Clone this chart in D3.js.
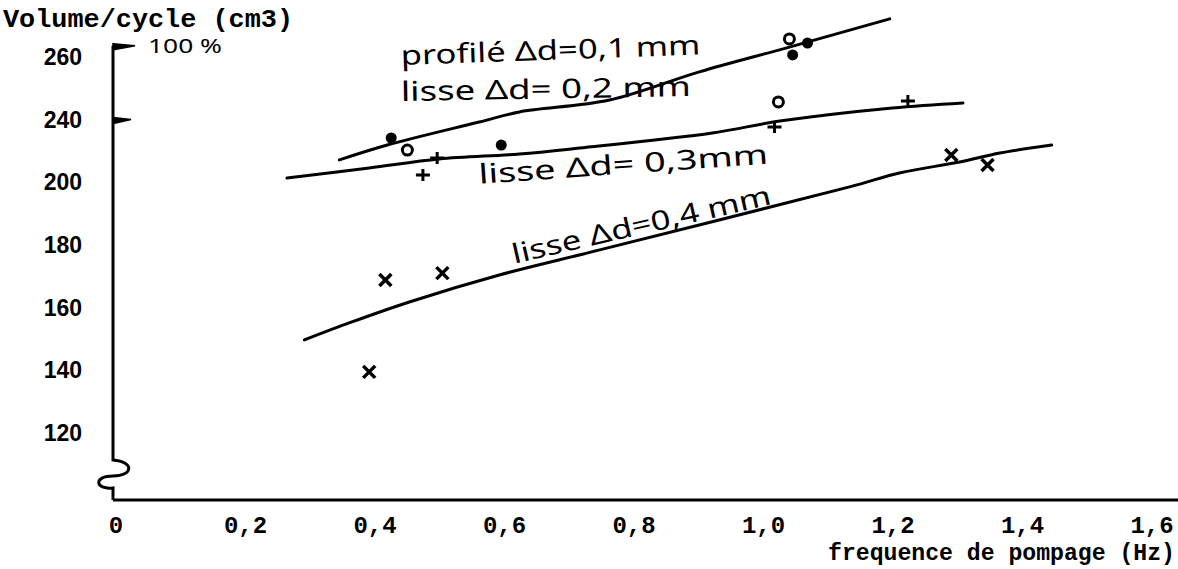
<!DOCTYPE html>
<html>
<head>
  <script src="https://d3js.org/d3.v7.min.js"></script>
  <title>Volume/cycle</title>
  <style>
  body { margin: 0; background: white; }
  </style>
</head>
<body>
<svg id="chart" width="1178" height="569"></svg>
<script>
// tick labels (the 220 label is missing on the original axis)
var yTickLabels = [120, 140, 160, 180, 200, 240, 260];
var xTickLabels = ["0", "0,2", "0,4", "0,6", "0,8", "1,0", "1,2", "1,4", "1,6"];
var xTickValues = [0, 0.2, 0.4, 0.6, 0.8, 1.0, 1.2, 1.4, 1.6];

// measured points
var dots    = [[0.425, 228.2], [0.595, 223.7], [1.045, 260.6], [1.068, 264.4]];
var circles = [[0.450, 220.5], [1.040, 265.7], [1.023, 245.6]];
var pluses  = [[0.474, 204.6], [0.496, 215.4], [1.017, 235.2], [1.223, 245.9]];
var crosses = [[0.416, 168.8], [0.504, 171.0], [0.391, 139.5], [1.290, 217.4], [1.346, 211.0]];

// hand drawn fit lines
var line01 = [[0.345, 214.2], [0.419, 223.7], [0.561, 238.4], [0.623, 242.4], [0.762, 246.2],
              [0.901, 255.2], [1.040, 263.1], [1.195, 272.1]];
var line03 = [[0.264, 202.7], [0.391, 209.1], [0.499, 214.8], [0.623, 218.0], [0.716, 221.8],
              [0.921, 231.4], [1.025, 239.0], [1.199, 243.7], [1.308, 245.3]];
var line04 = [[0.291, 149.7], [0.360, 155.1], [0.453, 161.8], [0.592, 170.4], [0.747, 178.4],
              [1.133, 198.5], [1.210, 205.9], [1.303, 212.9], [1.365, 218.6], [1.445, 223.7]];

// handwritten labels: text, x, y, rotation, width
var notes = [
  ["profilé Δd=0,1 mm", 0.440, 257.4, -2, 300],
  ["lisse Δd= 0,2 mm", 0.440, 245.9, -1, 290],
  ["lisse  Δd= 0,3mm", 0.561, 199.5, -4, 290],
  ["lisse   Δd=0,4 mm", 0.615, 174.0, -13, 265]
];

var svg = d3.select("#chart");

var x0 = 116, x1 = 1152;
var yBottom = 433, yStep = 62.7;

var xs = d3.scaleLinear().domain([0, 1.6]).range([x0, x1]);
var ys = d3.scaleLinear()
  .domain(yTickLabels)
  .range(yTickLabels.map(function(d, i) { return yBottom - i * yStep; }));

var axisX = 113, axisY = 500;

// y axis with break squiggle
var topY = ys(263.5);
svg.append("path")
  .attr("d", "M" + axisX + "," + topY + " L" + axisX + ",460"
    + " C" + (axisX + 22) + ",462 " + (axisX + 20) + ",476 " + axisX + ",476"
    + " C" + (axisX - 20) + ",476 " + (axisX - 18) + ",490 " + axisX + ",488"
    + " L" + axisX + "," + axisY)
  .attr("fill", "none")
  .attr("stroke", "black")
  .attr("stroke-width", 3);

// x axis line
svg.append("line")
  .attr("x1", axisX).attr("x2", 1178)
  .attr("y1", axisY).attr("y2", axisY)
  .attr("stroke", "black")
  .attr("stroke-width", 3);

// flag ticks
svg.append("path")
  .attr("d", "M" + axisX + "," + (topY - 2) + " L" + (axisX + 22) + "," + topY + " L" + axisX + "," + (topY + 4) + "Z")
  .attr("fill", "black").attr("stroke", "black").attr("stroke-width", 1.5);
svg.append("path")
  .attr("d", "M" + axisX + "," + (ys(240) - 2) + " L" + (axisX + 18) + "," + ys(240) + " L" + axisX + "," + (ys(240) + 4) + "Z")
  .attr("fill", "black").attr("stroke", "black").attr("stroke-width", 1.5);

svg.append("text")
  .attr("x", axisX + 35).attr("y", topY + 7)
  .attr("textLength", 74).attr("lengthAdjust", "spacingAndGlyphs")
  .style("font-family", "Noto Sans")
  .style("font-size", "19px")
  .text("100 %");

// y tick labels
svg.append("g").selectAll("text").data(yTickLabels).enter().append("text")
  .attr("x", 82)
  .attr("y", function(d) { return ys(d) + 8; })
  .attr("text-anchor", "end")
  .style("font-family", "Liberation Sans")
  .style("font-weight", "bold")
  .style("font-size", "23px")
  .text(function(d) { return d; });

// x tick labels
svg.append("g").selectAll("text").data(xTickValues).enter().append("text")
  .attr("x", function(d) { return xs(d); })
  .attr("y", 533)
  .attr("text-anchor", "middle")
  .style("font-family", "Liberation Mono")
  .style("font-weight", "bold")
  .style("font-size", "24px")
  .text(function(d, i) { return xTickLabels[i]; });

// axis titles
svg.append("text")
  .attr("x", 3).attr("y", 27)
  .attr("textLength", 290).attr("lengthAdjust", "spacingAndGlyphs")
  .style("font-family", "Liberation Mono")
  .style("font-weight", "bold")
  .style("font-size", "25px")
  .text("Volume/cycle (cm3)");

svg.append("text")
  .attr("x", 828).attr("y", 560)
  .attr("textLength", 347).attr("lengthAdjust", "spacingAndGlyphs")
  .style("font-family", "Liberation Mono")
  .style("font-weight", "bold")
  .style("font-size", "23px")
  .text("frequence de pompage (Hz)");

// fit lines
var lineGen = d3.line()
  .x(function(d) { return xs(d[0]); })
  .y(function(d) { return ys(d[1]); })
  .curve(d3.curveCatmullRom);

[line01, line03, line04].forEach(function(l) {
  svg.append("path")
    .datum(l)
    .attr("d", lineGen)
    .attr("fill", "none")
    .attr("stroke", "black")
    .attr("stroke-width", 3)
    .attr("stroke-linecap", "round");
});

// markers
svg.append("g").selectAll("circle").data(dots).enter().append("circle")
  .attr("cx", function(d) { return xs(d[0]); })
  .attr("cy", function(d) { return ys(d[1]); })
  .attr("r", 5.5)
  .attr("fill", "black");

svg.append("g").selectAll("circle").data(circles).enter().append("circle")
  .attr("cx", function(d) { return xs(d[0]); })
  .attr("cy", function(d) { return ys(d[1]); })
  .attr("r", 5)
  .attr("fill", "white")
  .attr("stroke", "black")
  .attr("stroke-width", 3);

svg.append("g").selectAll("path").data(pluses).enter().append("path")
  .attr("d", function(d) {
    var cx = xs(d[0]), cy = ys(d[1]);
    return "M" + (cx - 7) + "," + cy + "H" + (cx + 7) + "M" + cx + "," + (cy - 6) + "V" + (cy + 6);
  })
  .attr("stroke", "black")
  .attr("stroke-width", 3);

svg.append("g").selectAll("path").data(crosses).enter().append("path")
  .attr("d", function(d) {
    var cx = xs(d[0]), cy = ys(d[1]);
    return "M" + (cx - 6) + "," + (cy - 6) + "L" + (cx + 6) + "," + (cy + 6)
      + "M" + (cx + 6) + "," + (cy - 6) + "L" + (cx - 6) + "," + (cy + 6);
  })
  .attr("stroke", "black")
  .attr("stroke-width", 3.5);

// handwritten annotations
svg.append("g").selectAll("text").data(notes).enter().append("text")
  .attr("transform", function(d) {
    return "translate(" + xs(d[1]) + "," + ys(d[2]) + ") rotate(" + d[3] + ")";
  })
  .attr("textLength", function(d) { return d[4]; })
  .attr("lengthAdjust", "spacingAndGlyphs")
  .style("font-family", "Noto Sans")
  .style("font-size", "27px")
  .text(function(d) { return d[0]; });
</script>
</body>
</html>
